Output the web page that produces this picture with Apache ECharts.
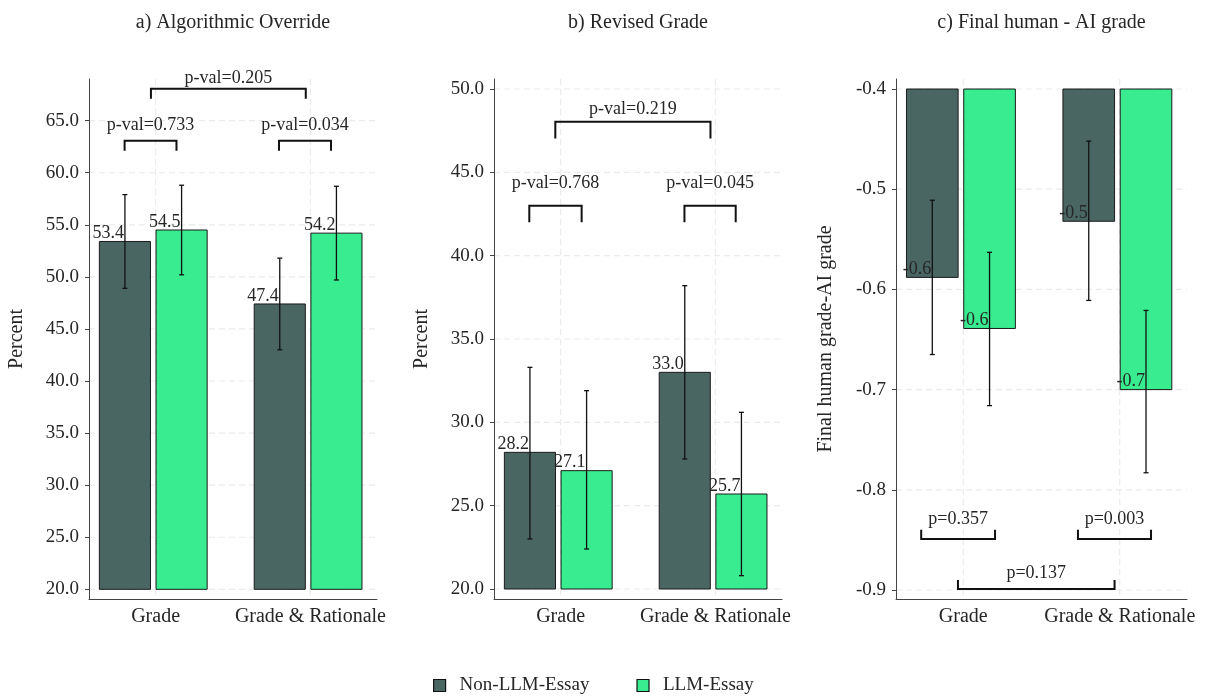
<!DOCTYPE html>
<html>
<head>
<meta charset="utf-8">
<script src="https://cdn.jsdelivr.net/npm/echarts@6/dist/echarts.min.js"></script>
<style>html,body{margin:0;padding:0;background:#fff}#c{width:1212px;height:696px}</style>
</head>
<body>
<div id="c"></div>
<script>
// ---------- data ----------
const categories = ['Grade', 'Grade & Rationale'];
const groups = ['Non-LLM-Essay', 'LLM-Essay'];

// a) Algorithmic Override (percent)
const overrideNonLLM = [53.4, 47.4];
const overrideNonLLMLow = [48.9, 43.0];
const overrideNonLLMHigh = [57.9, 51.8];
const overrideLLM = [54.5, 54.2];
const overrideLLMLow = [50.2, 49.7];
const overrideLLMHigh = [58.8, 58.7];

// b) Revised Grade (percent)
const revisedNonLLM = [28.2, 33.0];
const revisedNonLLMLow = [23.0, 27.8];
const revisedNonLLMHigh = [33.3, 38.2];
const revisedLLM = [27.1, 25.7];
const revisedLLMLow = [22.4, 20.8];
const revisedLLMHigh = [31.9, 30.6];

// c) Final human - AI grade
const diffNonLLM = [-0.588, -0.532];
const diffNonLLMLow = [-0.665, -0.611];
const diffNonLLMHigh = [-0.511, -0.452];
const diffLLM = [-0.639, -0.700];
const diffLLMLow = [-0.716, -0.783];
const diffLLMHigh = [-0.563, -0.621];

// tick labels
const ticksA = [20, 25, 30, 35, 40, 45, 50, 55, 60, 65];
const ticksB = [20, 25, 30, 35, 40, 45, 50];
const ticksC = [-0.9, -0.8, -0.7, -0.6, -0.5, -0.4];

// p-value annotations
const pvalA = [
  { from: 0.80, to: 1.135, y: 63.07, leg: 62.1, text: 'p-val=0.733', ty: 64.6 },
  { from: 1.797, to: 2.133, y: 63.07, leg: 62.1, text: 'p-val=0.034', ty: 64.6 },
  { from: 0.97, to: 1.97, y: 68.06, leg: 67.1, text: 'p-val=0.205', ty: 69.1 }
];
const pvalB = [
  { from: 0.798, to: 1.136, y: 43.0, leg: 42.0, text: 'p-val=0.768', ty: 44.36 },
  { from: 1.80, to: 2.131, y: 43.0, leg: 42.0, text: 'p-val=0.045', ty: 44.36 },
  { from: 0.966, to: 1.968, y: 48.03, leg: 47.03, text: 'p-val=0.219', ty: 48.8 }
];
const pvalC = [
  { from: 0.731, to: 1.203, y: -0.849, leg: -0.840, text: 'p=0.357', ty: -0.829 },
  { from: 1.733, to: 2.2, y: -0.849, leg: -0.840, text: 'p=0.003', ty: -0.829 },
  { from: 0.966, to: 1.967, y: -0.899, leg: -0.890, text: 'p=0.137', ty: -0.883 }
];

// ---------- style ----------
const FONT = '"Liberation Serif", "DejaVu Serif", serif';
const TXT = '#262626';
const COLORS = ['#4a6662', '#38ec8f'];
const OFFSETS = [-0.198, 0.168];
const BAR_W = 0.33;
const GRID_COLOR = '#ebebeb';

const panels = [
  { title: 'a) Algorithmic Override', yName: 'Percent', min: 19.07, max: 69.0, base: 20, ticks: ticksA,
    series: [[overrideNonLLM, overrideNonLLMLow, overrideNonLLMHigh], [overrideLLM, overrideLLMLow, overrideLLMHigh]],
    pvals: pvalA, grid: { left: 89, top: 79, width: 288, height: 520 }, nameGap: 62 },
  { title: 'b) Revised Grade', yName: 'Percent', min: 19.4, max: 50.6, base: 20, ticks: ticksB,
    series: [[revisedNonLLM, revisedNonLLMLow, revisedNonLLMHigh], [revisedLLM, revisedLLMLow, revisedLLMHigh]],
    pvals: pvalB, grid: { left: 494, top: 79, width: 288, height: 520 }, nameGap: 62 },
  { title: 'c) Final human - AI grade', yName: 'Final human grade-AI grade', min: -0.909, max: -0.39, base: -0.4, ticks: ticksC,
    series: [[diffNonLLM, diffNonLLMLow, diffNonLLMHigh], [diffLLM, diffLLMLow, diffLLMHigh]],
    pvals: pvalC, grid: { left: 896, top: 79, width: 291, height: 520 }, nameGap: 60 }
];

const grids = [], xAxes = [], yAxes = [], series = [], graphics = [];

panels.forEach((p, idx) => {
  grids.push(Object.assign({ containLabel: false }, p.grid));
  graphics.push({
    type: 'text', x: p.grid.left + p.grid.width / 2, y: 23,
    style: { text: p.title, align: 'center', verticalAlign: 'middle', font: '20px ' + FONT, fill: TXT }
  });
  const catVals = categories.map((_, i) => i + 1);
  xAxes.push({
    type: 'value', gridIndex: idx, min: 0.57, max: 2.43,
    axisLine: { show: true, onZero: false, lineStyle: { color: '#444', width: 1 } },
    axisTick: { show: false, customValues: catVals },
    axisLabel: { customValues: catVals, formatter: v => categories[Math.round(v) - 1] || '',
      fontFamily: FONT, fontSize: 20, color: TXT, margin: 8 },
    splitLine: { show: false }
  });
  yAxes.push({
    type: 'value', gridIndex: idx, min: p.min, max: p.max,
    name: p.yName, nameLocation: 'middle', nameGap: p.nameGap,
    nameTextStyle: { fontFamily: FONT, fontSize: 20, color: TXT },
    axisLine: { show: true, onZero: false, lineStyle: { color: '#444', width: 1 } },
    axisTick: { show: true, length: 4, customValues: p.ticks, lineStyle: { color: '#444' } },
    axisLabel: { customValues: p.ticks, formatter: v => v.toFixed(1),
      fontFamily: FONT, fontSize: 19, color: TXT, margin: 10 },
    splitLine: { show: false }
  });

  // horizontal grid lines
  series.push({
    type: 'custom', xAxisIndex: idx, yAxisIndex: idx, silent: true, z: 0,
    data: p.ticks.map(v => [1, v]), encode: { x: 0, y: 1 },
    renderItem: (params, api) => {
      const cs = params.coordSys;
      const y = api.coord([api.value(0), api.value(1)])[1];
      return { type: 'line', shape: { x1: cs.x, y1: y, x2: cs.x + cs.width, y2: y },
        style: { stroke: GRID_COLOR, lineWidth: 1.2, lineDash: [6, 4] } };
    }
  });
  // vertical grid lines at category centres
  series.push({
    type: 'custom', xAxisIndex: idx, yAxisIndex: idx, silent: true, z: 0,
    data: catVals.map(c => [c, p.ticks[0]]), encode: { x: 0, y: 1 },
    renderItem: (params, api) => {
      const cs = params.coordSys;
      const x = api.coord([api.value(0), api.value(1)])[0];
      return { type: 'line', shape: { x1: x, y1: cs.y, x2: x, y2: cs.y + cs.height },
        style: { stroke: GRID_COLOR, lineWidth: 1.2, lineDash: [6, 4] } };
    }
  });

  // bars + error bars + value labels
  p.series.forEach((s, g) => {
    const [vals, lows, highs] = s;
    const off = OFFSETS[g];
    const color = COLORS[g];
    series.push({
      type: 'custom', name: groups[g], xAxisIndex: idx, yAxisIndex: idx, z: 2,
      itemStyle: { color: color, borderColor: '#111', borderWidth: 1 },
      data: vals.map((v, i) => [i + 1, v, lows[i], highs[i]]),
      encode: { x: 0, y: [1, 2, 3] },
      renderItem: (params, api) => {
        const c = api.value(0) + off;
        const v = api.value(1);
        const top = api.coord([c, v]);
        const bot = api.coord([c, p.base]);
        const half = api.size([BAR_W, 0])[0] / 2;
        const lo = api.coord([c, api.value(2)]);
        const hi = api.coord([c, api.value(3)]);
        const cap = 2.5;
        return {
          type: 'group', children: [
            { type: 'rect', shape: { x: top[0] - half, y: Math.min(top[1], bot[1]), width: half * 2, height: Math.abs(bot[1] - top[1]) },
              style: { fill: color, stroke: '#1a1a1a', lineWidth: 1 } },
            { type: 'line', shape: { x1: lo[0], y1: lo[1], x2: hi[0], y2: hi[1] }, style: { stroke: '#111', lineWidth: 1.3 } },
            { type: 'line', shape: { x1: lo[0] - cap, y1: lo[1], x2: lo[0] + cap, y2: lo[1] }, style: { stroke: '#111', lineWidth: 1.3 } },
            { type: 'line', shape: { x1: hi[0] - cap, y1: hi[1], x2: hi[0] + cap, y2: hi[1] }, style: { stroke: '#111', lineWidth: 1.3 } },
            { type: 'text', x: top[0] - 1, y: top[1] + 1,
              style: { text: v.toFixed(1), align: 'right', verticalAlign: 'bottom', font: '18px ' + FONT, fill: TXT } }
          ]
        };
      }
    });
  });

  // p-value brackets
  series.push({
    type: 'custom', xAxisIndex: idx, yAxisIndex: idx, silent: true, z: 3, clip: false,
    data: p.pvals.map(b => [b.from, b.to, b.y, b.leg, b.ty]),
    encode: { x: [0, 1], y: [2, 3, 4] },
    renderItem: (params, api) => {
      const b = p.pvals[params.dataIndex];
      const a1 = api.coord([api.value(0), api.value(2)]);
      const a2 = api.coord([api.value(1), api.value(2)]);
      const l1 = api.coord([api.value(0), api.value(3)]);
      const l2 = api.coord([api.value(1), api.value(3)]);
      const t = api.coord([(api.value(0) + api.value(1)) / 2, api.value(4)]);
      return {
        type: 'group', children: [
          { type: 'polyline', shape: { points: [l1, a1, a2, l2] }, style: { stroke: '#111', lineWidth: 2, fill: null } },
          { type: 'text', x: t[0], y: t[1], style: { text: b.text, align: 'center', verticalAlign: 'middle', font: '18px ' + FONT, fill: TXT } }
        ]
      };
    }
  });
});

const chart = echarts.init(document.getElementById('c'), null, { renderer: 'canvas' });
chart.setOption({
  animation: false,
  backgroundColor: '#fff',
  grid: grids,
  xAxis: xAxes,
  yAxis: yAxes,
  legend: {
    left: 433, top: 676, padding: 0, icon: 'rect', itemWidth: 12, itemHeight: 12, itemGap: 47,
    data: groups.map((g, i) => ({ name: g, itemStyle: { color: COLORS[i], borderColor: '#111', borderWidth: 1.2 } })),
    textStyle: { fontFamily: FONT, fontSize: 19, color: TXT, padding: [0, 0, 0, 9] },
    selectedMode: false
  },
  graphic: graphics,
  series: series
});
</script>
</body>
</html>
